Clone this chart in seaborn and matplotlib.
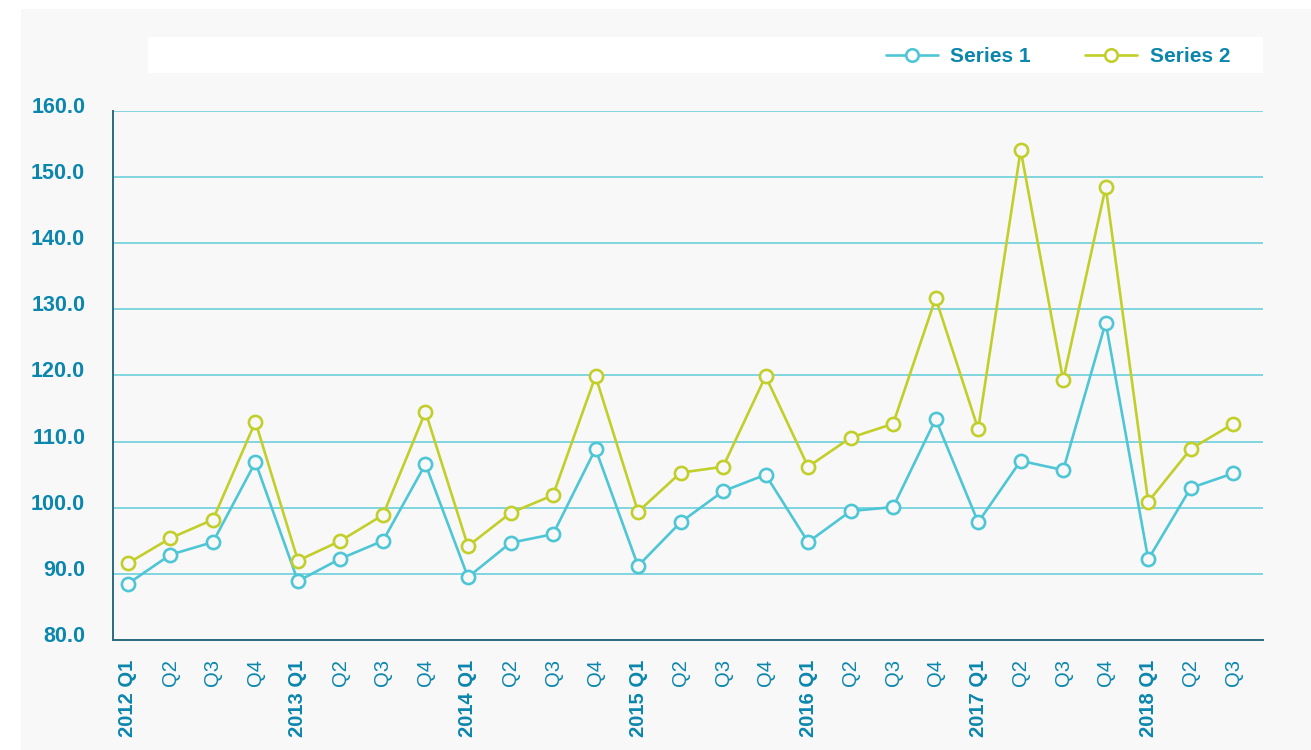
import matplotlib
matplotlib.use("Agg")
import matplotlib.pyplot as plt
import matplotlib.transforms as mtransforms
import numpy as np
import pandas as pd
import seaborn as sns
from matplotlib.lines import Line2D
from matplotlib.patches import Rectangle

quarters = [
    "2012 Q1", "Q2", "Q3", "Q4",
    "2013 Q1", "Q2", "Q3", "Q4",
    "2014 Q1", "Q2", "Q3", "Q4",
    "2015 Q1", "Q2", "Q3", "Q4",
    "2016 Q1", "Q2", "Q3", "Q4",
    "2017 Q1", "Q2", "Q3", "Q4",
    "2018 Q1", "Q2", "Q3",
]
series_1 = [
    88.5, 92.9, 94.8, 106.9,
    88.9, 92.3, 95.0, 106.6,
    89.5, 94.7, 96.0, 108.9,
    91.2, 97.8, 102.5, 105.0,
    94.8, 99.5, 100.1, 113.4,
    97.8, 107.1, 105.7, 128.0,
    92.2, 103.0, 105.2,
]
series_2 = [
    91.6, 95.4, 98.2, 113.0,
    92.0, 95.0, 98.9, 114.5,
    94.2, 99.2, 101.9, 119.9,
    99.4, 105.3, 106.2, 119.9,
    106.2, 110.6, 112.7, 131.7,
    111.9, 154.1, 119.3, 148.5,
    100.9, 108.9, 112.7,
]
series_names = ["Series 1", "Series 2"]

TEXT = "#0b86ad"
SPINE = "#2c6a80"
GRID = "#6ccfdb"
BG = "#f8f8f8"
colors = {"Series 1": "#4fc6d5", "Series 2": "#c2cf2a"}


def main():
    pos = np.arange(len(quarters))
    df = pd.concat([
        pd.DataFrame({"pos": pos, "value": series_1, "series": series_names[0]}),
        pd.DataFrame({"pos": pos, "value": series_2, "series": series_names[1]}),
    ])

    sns.set_style("white")
    plt.rcParams["font.family"] = ["Liberation Sans", "DejaVu Sans"]

    fig = plt.figure(figsize=(13.11, 7.5), dpi=100)
    fig.patch.set_facecolor("white")
    fig.patches.append(Rectangle((21 / 1311, 0), 1, 1 - 9 / 750,
                                 transform=fig.transFigure, facecolor=BG,
                                 edgecolor="none", zorder=-2))
    fig.patches.append(Rectangle((148 / 1311, 1 - 73 / 750), (1263 - 148) / 1311, 36 / 750,
                                 transform=fig.transFigure, facecolor="white",
                                 edgecolor="none", zorder=-1))

    ax = fig.add_axes([113 / 1311, 1 - 640 / 750, 1150 / 1311, 529 / 750])
    ax.set_facecolor("none")

    sns.lineplot(data=df, x="pos", y="value", hue="series", palette=colors,
                 marker="o", markersize=9.5, linewidth=1.9, legend=False, ax=ax)
    for line, name in zip(ax.lines, series_names):
        line.set_markeredgecolor(colors[name])
        line.set_markerfacecolor(BG)
        line.set_markeredgewidth(1.9)

    ax.set_ylim(80, 160)
    ax.set_xlim(-0.35, 26.7)
    ax.set_yticks(np.arange(80, 161, 10))
    ax.set_yticklabels([f"{v:.1f}" for v in np.arange(80, 161, 10)],
                       fontsize=15.5, fontweight="bold", color=TEXT)
    ax.yaxis.grid(True, color=GRID, linewidth=1.2)
    ax.set_axisbelow(True)

    ax.set_xticks(pos)
    ax.set_xticklabels(quarters, rotation=90, fontsize=14.5, color=TEXT)
    for lab in ax.get_xticklabels():
        if " " in lab.get_text():
            lab.set_fontweight("bold")
    ax.tick_params(axis="x", which="major", length=0, pad=14)
    ax.set_xticks(np.linspace(0, 26, 10), minor=True)
    ax.tick_params(axis="x", which="minor", length=8, width=1.3, color=SPINE, direction="out")
    ax.tick_params(axis="y", length=8, width=1.3, color=SPINE, pad=12, direction="out")

    # y labels sit a little above their gridlines
    shift = mtransforms.ScaledTranslation(0, 6 / 100, fig.dpi_scale_trans)
    for tick in ax.yaxis.get_major_ticks():
        tick.label1.set_transform(tick.label1.get_transform() + shift)

    ax.set_xlabel("")
    ax.set_ylabel("")
    for side in ["top", "right"]:
        ax.spines[side].set_visible(False)
    for side in ["left", "bottom"]:
        ax.spines[side].set_color(SPINE)
        ax.spines[side].set_linewidth(1.4)

    handles = [Line2D([], [], color=colors[n], linewidth=1.9, marker="o", markersize=9,
                      markerfacecolor="white", markeredgecolor=colors[n], markeredgewidth=1.9)
               for n in series_names]
    leg = fig.legend(handles=handles, labels=series_names, loc="center right",
                     bbox_to_anchor=(1249 / 1311, 1 - 57 / 750), ncol=2,
                     frameon=False, handlelength=2.5, handletextpad=0.6, columnspacing=2.6,
                     prop={"size": 15, "weight": "bold"})
    for t in leg.get_texts():
        t.set_color(TEXT)

    fig.savefig("out.png", dpi=100, facecolor=fig.get_facecolor())


if __name__ == "__main__":
    main()
